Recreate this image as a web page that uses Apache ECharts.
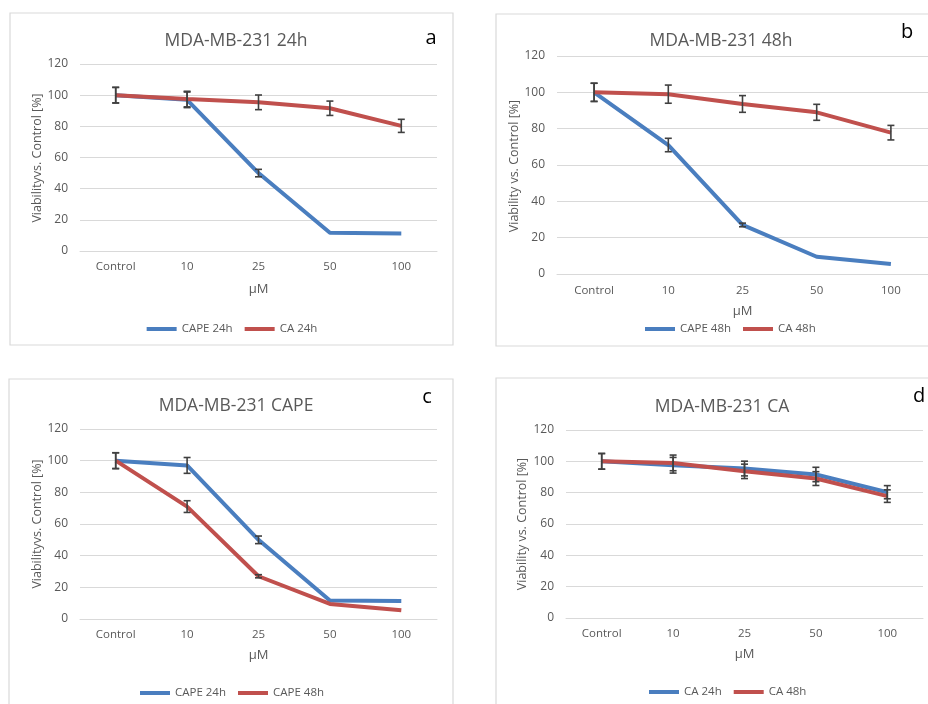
<!DOCTYPE html>
<html>
<head>
<meta charset="utf-8">
<script src="https://cdn.jsdelivr.net/npm/echarts@6/dist/echarts.min.js"></script>
<style>
html,body{margin:0;padding:0;background:#fff;}
#wrap{position:relative;width:928px;height:704px;overflow:hidden;}
.pan{position:absolute;width:464px;height:352px;}
</style>
</head>
<body>
<div id="wrap">
<div id="pa" class="pan" style="left:0;top:0"></div>
<div id="pb" class="pan" style="left:464px;top:0"></div>
<div id="pc" class="pan" style="left:0;top:352px"></div>
<div id="pd" class="pan" style="left:464px;top:352px"></div>
</div>
<script>
// ---- data ----
const categories = ['Control', '10', '25', '50', '100'];
const cape24 = [100, 97, 50, 11.7, 11.3];
const ca24 = [100, 97.5, 95.4, 91.6, 80.3];
const cape48 = [100, 71, 27, 9.5, 5.5];
const ca48 = [100, 99, 93.6, 89, 77.8];
const cape24Err = [5, 5, 2.4, 0, 0];
const ca24Err = [5, 5, 4.7, 4.6, 4.2];
const cape48Err = [5, 3.7, 1, 0, 0];
const ca48Err = [5, 5, 4.6, 4.4, 4];
const yMin = 0, yMax = 120, yStep = 20;

const BLUE = '#4a7ebf';
const RED = '#c0504d';
const TXT = '#595959';
const GRID = '#d9d9d9';
const FONT = '"Open Sans", "Noto Sans", sans-serif';

function errSeries(vals, errs) {
  return {
    type: 'custom',
    z: 10,
    silent: true,
    renderItem: function (params, api) {
      const x = api.value(0), y = api.value(1), e = api.value(2);
      if (!(e > 0)) return null;
      const t = api.coord([x, y + e]);
      const b = api.coord([x, y - e]);
      const w = 3.5;
      const st = { stroke: '#404040', lineWidth: 1.6 };
      return {
        type: 'group', children: [
          { type: 'line', shape: { x1: t[0], y1: t[1], x2: b[0], y2: b[1] }, style: st },
          { type: 'line', shape: { x1: t[0] - w, y1: t[1], x2: t[0] + w, y2: t[1] }, style: st },
          { type: 'line', shape: { x1: b[0] - w, y1: b[1], x2: b[0] + w, y2: b[1] }, style: st }
        ]
      };
    },
    encode: { x: 0, y: 1 },
    data: vals.map((v, i) => [i, v, errs[i]])
  };
}

function lineSeries(name, vals, color) {
  return {
    type: 'line', name: name, data: vals, symbol: 'none',
    lineStyle: { width: 4, color: color }, itemStyle: { color: color }, z: 3
  };
}

function makePanel(id, cfg) {
  const chart = echarts.init(document.getElementById(id), null, { renderer: 'canvas' });
  chart.setOption({
    animation: false,
    textStyle: { fontFamily: FONT },
    graphic: [
      { type: 'rect', shape: cfg.frame, style: { fill: 'none', stroke: '#d9d9d9', lineWidth: 1.2 }, z: -10 },
      { type: 'text', x: cfg.letter[0], y: cfg.letter[1],
        style: { text: cfg.letter[2], fill: '#000', font: '20px ' + FONT, align: 'center', verticalAlign: 'middle' } },
      { type: 'text', x: cfg.yNamePos[0], y: cfg.yNamePos[1], rotation: Math.PI / 2,
        style: { text: cfg.yName, fill: TXT, font: '12.5px ' + FONT, align: 'center', verticalAlign: 'middle' } }
    ],
    title: {
      text: cfg.title, left: cfg.titlePos[0], top: cfg.titlePos[1],
      textAlign: 'center', textVerticalAlign: 'middle',
      textStyle: { color: TXT, fontSize: 17.5, fontWeight: 'normal', fontFamily: FONT }
    },
    legend: {
      data: cfg.names, left: cfg.legendPos[0], top: cfg.legendPos[1],
      icon: 'rect', itemWidth: 30, itemHeight: 4, itemGap: 12,
      textStyle: { color: TXT, fontSize: 11.5, fontFamily: FONT }
    },
    grid: cfg.grid,
    xAxis: {
      type: 'category', data: categories, boundaryGap: true,
      name: 'µM', nameLocation: 'middle', nameGap: cfg.xNameGap,
      nameTextStyle: { color: TXT, fontSize: 13, fontFamily: FONT },
      axisLine: { show: true, lineStyle: { color: GRID, width: 1 } },
      axisTick: { show: false },
      axisLabel: { color: TXT, fontSize: 11.5, margin: cfg.xLabelMargin, fontFamily: FONT }
    },
    yAxis: {
      type: 'value', min: yMin, max: yMax, interval: yStep,
      axisLine: { show: false }, axisTick: { show: false },
      axisLabel: { color: TXT, fontSize: 12, margin: 12, fontFamily: FONT },
      splitLine: { lineStyle: { color: GRID, width: 1 } }
    },
    series: [
      lineSeries(cfg.names[0], cfg.vals[0], cfg.colors[0]),
      lineSeries(cfg.names[1], cfg.vals[1], cfg.colors[1]),
      errSeries(cfg.vals[0], cfg.errs[0]),
      errSeries(cfg.vals[1], cfg.errs[1])
    ]
  });
}

makePanel('pa', {
  frame: { x: 10, y: 13, width: 443, height: 332 },
  letter: [431, 38, 'a'],
  title: 'MDA-MB-231 24h', titlePos: [231, 36],
  names: ['CAPE 24h', 'CA 24h'], legendPos: ['center', 318],
  grid: { left: 80, right: 27, top: 64, bottom: 101 },
  xNameGap: 32, xLabelMargin: 10,
  yName: 'Viabilityvs. Control [%]', yNamePos: [37, 158],
  vals: [cape24, ca24], errs: [cape24Err, ca24Err], colors: [BLUE, RED]
});

makePanel('pb', {
  frame: { x: 32, y: 14, width: 460, height: 332 },
  letter: [443, 32, 'b'],
  title: 'MDA-MB-231 48h', titlePos: [252, 36],
  names: ['CAPE 48h', 'CA 48h'], legendPos: [176, 318],
  grid: { left: 93, right: 0, top: 56, bottom: 78 },
  xNameGap: 31, xLabelMargin: 11,
  yName: 'Viability vs. Control [%]', yNamePos: [50, 166],
  vals: [cape48, ca48], errs: [cape48Err, ca48Err], colors: [BLUE, RED]
});

makePanel('pc', {
  frame: { x: 9, y: 27, width: 444, height: 340 },
  letter: [427, 45, 'c'],
  title: 'MDA-MB-231 CAPE', titlePos: [231, 49],
  names: ['CAPE 24h', 'CAPE 48h'], legendPos: ['center', 330],
  grid: { left: 80, right: 27, top: 77, bottom: 85 },
  xNameGap: 30, xLabelMargin: 10,
  yName: 'Viabilityvs. Control [%]', yNamePos: [37, 172],
  vals: [cape24, cape48], errs: [cape24Err, cape48Err], colors: [BLUE, RED]
});

makePanel('pd', {
  frame: { x: 32, y: 26, width: 460, height: 340 },
  letter: [455, 44, 'd'],
  title: 'MDA-MB-231 CA', titlePos: [253, 50],
  names: ['CA 24h', 'CA 48h'], legendPos: [180, 329],
  grid: { left: 102, right: 5, top: 78, bottom: 86 },
  xNameGap: 30, xLabelMargin: 10,
  yName: 'Viability vs. Control [%]', yNamePos: [58, 172],
  vals: [ca24, ca48], errs: [ca24Err, ca48Err], colors: [BLUE, RED]
});
</script>
</body>
</html>
